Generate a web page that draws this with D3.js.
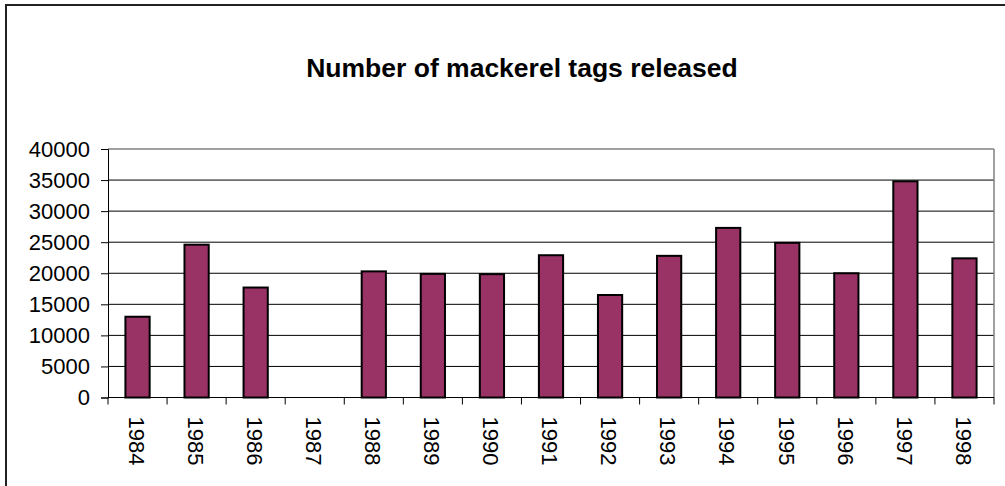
<!DOCTYPE html>
<html lang="en">
  <head>
    <meta charset="utf-8">
    <script src="https://d3js.org/d3.v7.min.js"></script>
    <title>Number of mackerel tags released</title>
    <style>
      body { margin: 0; background: #fff; }
      svg { display: block; font-family: "Liberation Sans", Arial, sans-serif; }
    </style>
  </head>
  <body>
    <div id="chart"></div>
    <script>
      const years = ['1984', '1985', '1986', '1987', '1988', '1989', '1990', '1991',
                     '1992', '1993', '1994', '1995', '1996', '1997', '1998'];
      const tags = [13000, 24600, 17700, 0, 20300, 19900, 19850, 22900,
                    16500, 22800, 27300, 24900, 20000, 34800, 22400];
      const yTicks = [0, 5000, 10000, 15000, 20000, 25000, 30000, 35000, 40000];

      const W = 1005, H = 486;
      const plot = {left: 108, right: 994, top: 149, bottom: 397.5};

      const svg = d3.select('#chart').append('svg')
        .attr('width', W)
        .attr('height', H);

      // chart area border (only left/top visible in the frame)
      svg.append('rect')
        .attr('x', 6).attr('y', 5)
        .attr('width', 1200).attr('height', 800)
        .attr('fill', 'none')
        .attr('stroke', '#222')
        .attr('stroke-width', 2);

      svg.append('text')
        .attr('x', 522).attr('y', 77)
        .attr('text-anchor', 'middle')
        .attr('font-size', 26.5)
        .attr('font-weight', 'bold')
        .text('Number of mackerel tags released');

      const x = d3.scaleBand()
        .domain(years)
        .range([plot.left, plot.right])
        .paddingInner(0.59)
        .paddingOuter(0.295);
      const xEdge = d3.scaleLinear()
        .domain([0, years.length])
        .range([plot.left, plot.right]);
      const y = d3.scaleLinear()
        .domain([0, 40000])
        .range([plot.bottom, plot.top]);

      // gridlines
      svg.append('g')
        .selectAll('line')
        .data(yTicks.filter(d => d > 0))
        .join('line')
          .attr('x1', plot.left).attr('x2', plot.right)
          .attr('y1', d => y(d)).attr('y2', d => y(d))
          .attr('stroke', d => d === 40000 ? '#808080' : '#000')
          .attr('stroke-width', d => d === 40000 ? 1.5 : 1);
      svg.append('line')
        .attr('x1', plot.right).attr('x2', plot.right)
        .attr('y1', plot.top).attr('y2', plot.bottom)
        .attr('stroke', '#808080').attr('stroke-width', 1.5);

      // bars
      svg.append('g')
        .selectAll('rect')
        .data(years.map((yr, i) => ({yr, v: tags[i]})).filter(d => d.v > 0))
        .join('rect')
          .attr('x', d => x(d.yr))
          .attr('y', d => y(d.v))
          .attr('width', x.bandwidth())
          .attr('height', d => y(0) - y(d.v))
          .attr('fill', '#993366')
          .attr('stroke', '#000')
          .attr('stroke-width', 2);

      // y axis
      const yAxis = svg.append('g')
        .attr('transform', `translate(${plot.left},0)`)
        .call(d3.axisLeft(y).tickValues(yTicks).tickSize(7).tickPadding(11).tickFormat(d3.format('d')));
      yAxis.select('.domain').attr('stroke', '#000');
      yAxis.selectAll('text').attr('font-size', 22).attr('fill', '#000')
        .attr('font-family', '"Liberation Sans", Arial, sans-serif');

      // x axis line and category boundary ticks
      const xAxis = svg.append('g');
      xAxis.append('line')
        .attr('x1', plot.left).attr('x2', plot.right)
        .attr('y1', plot.bottom).attr('y2', plot.bottom)
        .attr('stroke', '#000');
      xAxis.selectAll('line.tick')
        .data(d3.range(years.length + 1))
        .join('line')
          .attr('class', 'tick')
          .attr('x1', d => xEdge(d)).attr('x2', d => xEdge(d))
          .attr('y1', plot.bottom).attr('y2', plot.bottom + 7)
          .attr('stroke', '#000');
      xAxis.selectAll('text')
        .data(years)
        .join('text')
          .attr('transform', d => `translate(${x(d) + x.bandwidth() / 2 - 1},${plot.bottom + 19}) rotate(90)`)
          .attr('dy', '0.35em')
          .attr('font-size', 22)
          .text(d => d);
    </script>
  </body>
</html>
